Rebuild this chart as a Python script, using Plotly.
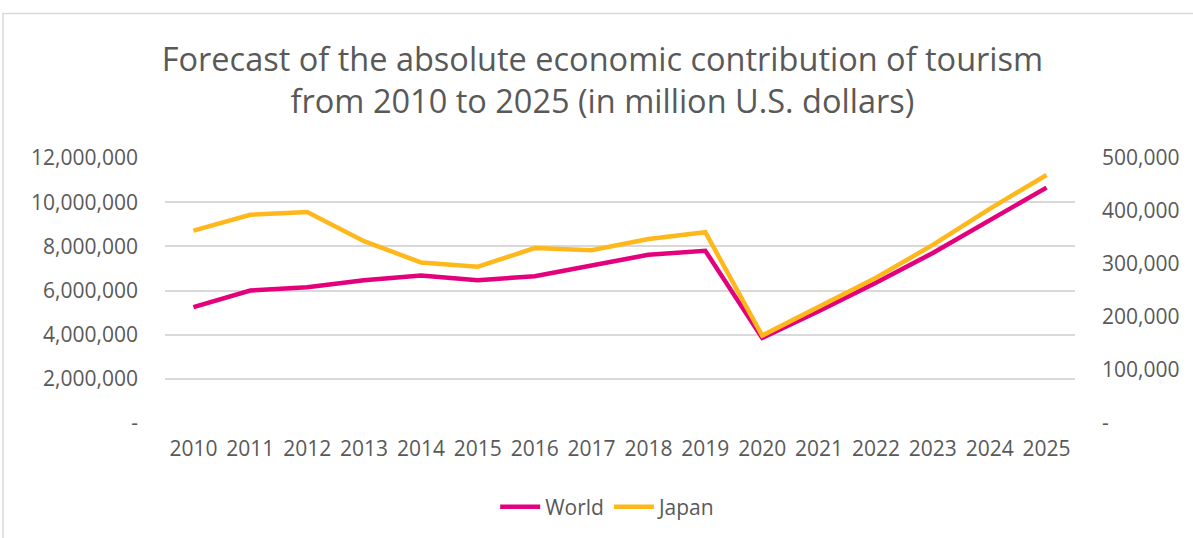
import plotly.graph_objects as go

years = [str(y) for y in range(2010, 2026)]
world = [5250000, 6000000, 6150000, 6460000, 6680000, 6460000, 6650000, 7160000,
         7620000, 7800000, 3850000, 5070000, 6350000, 7700000, 9160000, 10660000]
japan = [363000, 393000, 398000, 343000, 303000, 295000, 330000, 326000,
         347000, 360000, 165000, 220000, 274000, 336000, 404000, 468000]

left_ticks = [0, 2000000, 4000000, 6000000, 8000000, 10000000, 12000000]
left_text = ["-", "2,000,000", "4,000,000", "6,000,000", "8,000,000", "10,000,000", "12,000,000"]
right_ticks = [0, 100000, 200000, 300000, 400000, 500000]
right_text = ["-", "100,000", "200,000", "300,000", "400,000", "500,000"]

TEXT = "#595959"
GRID = "#d9d9d9"
FONT = "Open Sans"

fig = go.Figure()
fig.add_trace(go.Scatter(x=years, y=world, name="World", mode="lines",
                         line=dict(color="#E4007C", width=4.5), yaxis="y"))
fig.add_trace(go.Scatter(x=years, y=japan, name="Japan", mode="lines",
                         line=dict(color="#FFB81C", width=4.5), yaxis="y2"))

fig.update_layout(
    width=1193, height=538,
    margin=dict(l=165, r=118, t=158, b=114),
    paper_bgcolor="white", plot_bgcolor="white",
    font=dict(family=FONT, color=TEXT, size=21),
    title=dict(text="Forecast of the absolute economic contribution of tourism<br>from 2010 to 2025 (in million U.S. dollars)",
               x=0.505, xanchor="center", y=0.868, yanchor="middle",
               font=dict(family=FONT, size=32.5, color=TEXT)),
    xaxis=dict(type="category", range=[-0.5, 15.5], showgrid=False, showline=False,
               ticks="", tickfont=dict(size=21, color=TEXT), ticklabelstandoff=11),
    yaxis=dict(range=[0, 12000000], tickvals=left_ticks, ticktext=left_text,
               showgrid=True, gridcolor=GRID, gridwidth=1.5, zeroline=False,
               showline=False, ticks="", tickfont=dict(size=21, color=TEXT),
               ticklabelstandoff=26),
    yaxis2=dict(range=[0, 500000], tickvals=right_ticks, ticktext=right_text,
                overlaying="y", side="right", showgrid=False, zeroline=False,
                showline=False, ticks="", tickfont=dict(size=21, color=TEXT),
                ticklabelstandoff=26),
    legend=dict(orientation="h", x=0.487, xanchor="center", y=-0.312, yanchor="middle",
                font=dict(size=21, color=TEXT), itemwidth=40),
    showlegend=True,
)

fig.add_shape(type="rect", xref="paper", yref="paper",
              x0=-0.178, x1=1.14, y0=-0.6, y1=1.545,
              line=dict(color=GRID, width=1.5), fillcolor="rgba(0,0,0,0)", layer="below")

fig.write_html("out.html")
